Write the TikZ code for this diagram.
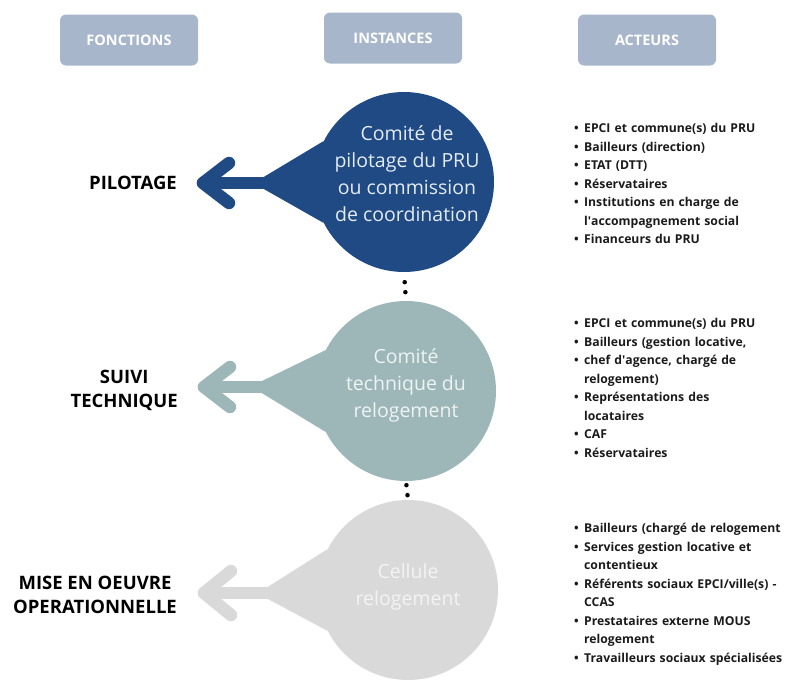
\documentclass[tikz,border=0pt]{standalone}
\usepackage{fontspec}
\setmainfont{Open Sans}
\usetikzlibrary{positioning}

\definecolor{headgray}{HTML}{A7B6CA}
\definecolor{pilblue}{HTML}{1F4A84}
\definecolor{suivigray}{HTML}{9DB7B9}
\definecolor{cellgray}{HTML}{D9D9D9}
\definecolor{piltext}{HTML}{E4EBF3}
\definecolor{suivitext}{HTML}{EEF3F3}
\definecolor{celltext}{HTML}{F3F3F3}
\definecolor{listtext}{HTML}{1A1A1A}

\newcommand{\acteur}[1]{\par\hangindent=10pt\hangafter=1\noindent\makebox[10pt][l]{\textbullet}#1}

\tikzset{
  header/.style={fill=headgray, rounded corners=6pt, minimum width=138pt,
    minimum height=51pt, inner sep=0pt, text=white,
    font=\bfseries\fontsize{14.5}{16}\selectfont},
  instance/.style={circle, minimum size=180pt, inner sep=0pt},
  instxt/.style={align=center, inner sep=0pt,
    font=\fontsize{19.5}{27}\selectfont},
  fonction/.style={anchor=east, align=center, inner sep=0pt, text=black,
    font=\bfseries\fontsize{18.5}{24}\selectfont},
  acteurs/.style={anchor=base west, align=left, inner sep=0pt,
    text width=215pt, text=listtext,
    font=\bfseries\fontsize{12.2}{18.5}\selectfont},
  pointer/.style={line width=12.5pt, line cap=round, line join=round},
  dotline/.style={line width=4.5pt, line cap=round, dash pattern=on 0pt off 10pt}
}

\begin{document}
\begin{tikzpicture}[x=1pt,y=-1pt]
\useasboundingbox (0,0) rectangle (788,680);
%%%% Header boxes
    \node[header] (fonctions) at (129,40) {FONCTIONS};
    \node[header] (instances) at (393,38) {INSTANCES};
    \node[header] (acteurs) at (647,40) {ACTEURS};
%%%% Instances circles
    \node[instance, fill=pilblue] (pil) at (404,182) {};
    \node[instance, fill=suivigray] (suivi) at (406,391) {};
    \node[instance, fill=cellgray] (cell) at (408,590) {};
%%%% Dots between the circles
    \draw[dotline, shorten <=10pt, shorten >=7pt] (pil.south) -- (suivi.north);
    \draw[dotline, shorten <=4pt, shorten >=3pt] (suivi.south) -- (cell.north);
%%%% Cones and pointers towards the functions
    \coordinate (piltip) at (203,183);
    \coordinate (pilneck) at (262,183);
    \coordinate (pilarmA) at (229,163);
    \coordinate (pilarmB) at (229,203);
    \fill[pilblue] (pil.153) -- (262,178) -- (262,188) -- (pil.207) -- cycle;
    \draw[pointer, pilblue] (pilneck) -- (piltip);
    \draw[pointer, pilblue] (pilarmA) -- (piltip) -- (pilarmB);

    \coordinate (suivitip) at (204,387);
    \coordinate (suivineck) at (260,387);
    \coordinate (suiviarmA) at (230,367);
    \coordinate (suiviarmB) at (230,407);
    \fill[suivigray] (suivi.153) -- (260,382) -- (260,392) -- (suivi.207) -- cycle;
    \draw[pointer, suivigray] (suivineck) -- (suivitip);
    \draw[pointer, suivigray] (suiviarmA) -- (suivitip) -- (suiviarmB);

    \coordinate (celltip) at (204,593);
    \coordinate (cellneck) at (266,593);
    \coordinate (cellarmA) at (231,571);
    \coordinate (cellarmB) at (231,615);
    \fill[cellgray] (cell.153) -- (266,588) -- (266,598) -- (cell.207) -- cycle;
    \draw[pointer, cellgray] (cellneck) -- (celltip);
    \draw[pointer, cellgray] (cellarmA) -- (celltip) -- (cellarmB);
%%%% Texts inside the circles
    \node[instxt, text=piltext] (piltxt) at (407,174)
        {Comité de\\pilotage du PRU\\ou commission\\de coordination};
    \node[instxt, text=suivitext] (suivitxt) at (406,385)
        {Comité\\technique du\\relogement};
    \node[instxt, text=celltext] (celltxt) at (408,587)
        {Cellule\\relogement};
%%%% Functions
    \node[fonction] (pilotage) at (177,183) {PILOTAGE};
    \node[fonction] (technique) at (178,390) {SUIVI\\TECHNIQUE};
    \node[fonction] (operation) at (177,595) {MISE EN OEUVRE\\OPERATIONNELLE};
%%%% Actors
    \node[acteurs] (actpil) at (574,114) {%
        \acteur{EPCI et commune(s) du PRU}
        \acteur{Bailleurs (direction)}
        \acteur{ETAT (DTT)}
        \acteur{Réservataires}
        \acteur{Institutions en charge de\newline l\textquotesingle accompagnement social}
        \acteur{Financeurs du PRU}};
    \node[acteurs] (actsuivi) at (574,309) {%
        \acteur{EPCI et commune(s) du PRU}
        \acteur{Bailleurs (gestion locative,}
        \acteur{chef d\textquotesingle agence, chargé de\newline relogement)}
        \acteur{Représentations des\newline locataires}
        \acteur{CAF}
        \acteur{Réservataires}};
    \node[acteurs] (actcell) at (574,514) {%
        \acteur{Bailleurs (chargé de relogement}
        \acteur{Services gestion locative et\newline contentieux}
        \acteur{Référents sociaux EPCI/ville(s) -\newline CCAS}
        \acteur{Prestataires externe MOUS\newline relogement}
        \acteur{Travailleurs sociaux spécialisées}};
\end{tikzpicture}
\end{document}
